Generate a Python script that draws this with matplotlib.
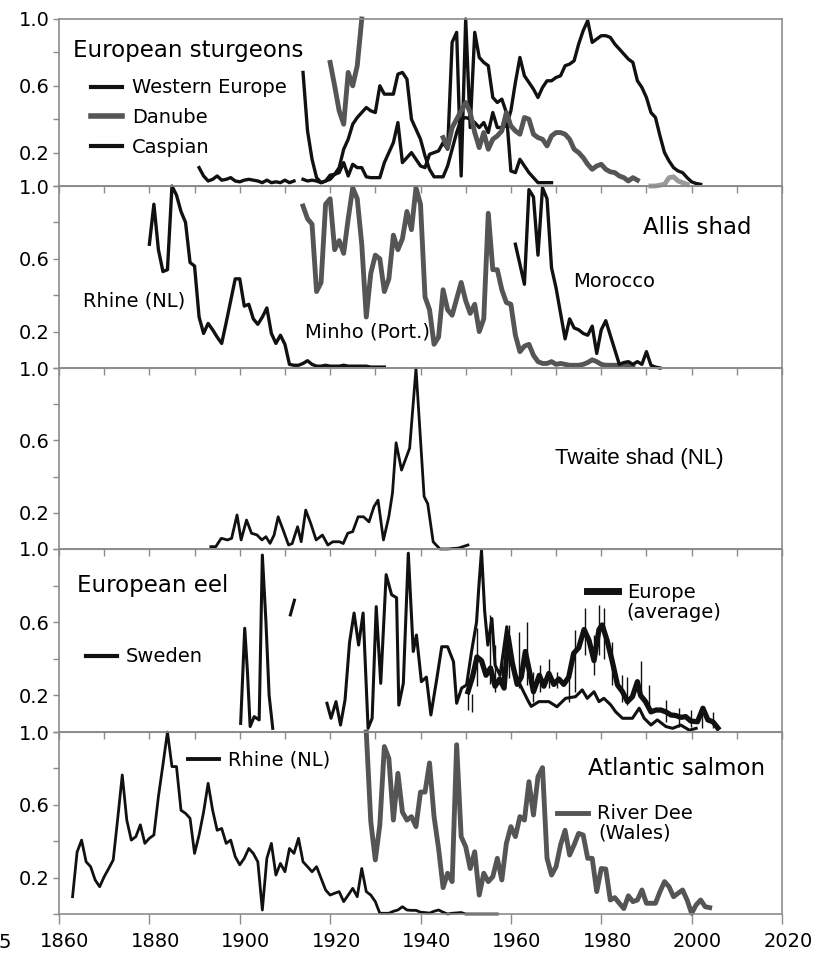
import numpy as np
import matplotlib.pyplot as plt
from matplotlib.lines import Line2D
from matplotlib.transforms import ScaledTranslation

nan = np.nan

# ---------------- data (relative catch, max = 1) ----------------
# European sturgeons
west_years = np.arange(1891, 1970)
west_vals = [0.11, 0.06, 0.03, 0.04, 0.06, 0.035, 0.04, 0.05, 0.03, 0.025,
             0.035, 0.04, 0.035, 0.03, 0.02, 0.035, 0.02, 0.025, 0.02, 0.035,
             0.02, 0.03, nan,
             0.04, 0.03, 0.035, 0.03, 0.02, 0.03, 0.065, 0.07, 0.08, 0.14,
             0.06, 0.13, 0.11, 0.11, 0.055, 0.05, 0.05, 0.05, 0.14, 0.2,
             0.26, 0.38, 0.14, 0.17, 0.2, 0.16, 0.12, 0.11, 0.19, 0.2,
             0.21, 0.26, 0.22, 0.86, 0.92, 0.06, 1.0, 0.35, 0.92, 0.77,
             0.74, 0.72, 0.53, 0.5, 0.52, 0.44, 0.09, 0.08, 0.16, 0.12,
             0.08, 0.05, 0.02, 0.02, 0.02, 0.02]

caspian_years = np.arange(1914, 2003)
caspian_vals = [0.68, 0.33, 0.16, 0.05, 0.02, 0.03, 0.04, 0.07, 0.11, 0.22,
                0.28, 0.37, 0.41, 0.44, 0.47, 0.45, 0.44, 0.6, 0.55, 0.55,
                0.55, 0.67, 0.68, 0.64, 0.4, 0.34, 0.28, 0.18, 0.1, 0.055,
                0.055, 0.055, 0.12, 0.22, 0.32, 0.4, 0.41, 0.4, 0.38, 0.35,
                0.38, 0.32, 0.44, 0.35, 0.35, 0.36, 0.45, 0.62, 0.77, 0.66,
                0.62, 0.58, 0.53, 0.59, 0.63, 0.63, 0.65, 0.66, 0.72, 0.73,
                0.75, 0.85, 0.93, 0.99, 0.86, 0.88, 0.9, 0.9, 0.89, 0.85,
                0.82, 0.79, 0.76, 0.74, 0.63, 0.59, 0.53, 0.44, 0.41, 0.3,
                0.2, 0.15, 0.11, 0.09, 0.08, 0.05, 0.025, 0.015, 0.01]

danube_years = np.arange(1920, 1989)
danube_vals = [0.74, 0.6, 0.45, 0.37, 0.68, 0.6, 0.72, 1.0] + [nan] * 17 + \
              [0.29, 0.23, 0.35, 0.4, 0.45, 0.5, 0.44, 0.32, 0.23, 0.32,
               0.22, 0.28, 0.3, 0.33, 0.44, 0.36, 0.33, 0.31, 0.41, 0.4,
               0.31, 0.29, 0.28, 0.24, 0.3, 0.32, 0.32, 0.31, 0.28, 0.22,
               0.2, 0.17, 0.13, 0.1, 0.12, 0.13, 0.1, 0.085, 0.08, 0.06,
               0.05, 0.03, 0.05, 0.035]
danube_late_years = np.arange(1991, 2000)
danube_late_vals = [0.0, 0.0, 0.005, 0.01, 0.05, 0.055, 0.03, 0.02, 0.01]

# Allis shad
rhine_shad_years = np.arange(1880, 1933)
rhine_shad_vals = [0.68, 0.9, 0.65, 0.53, 0.54, 1.0, 0.95, 0.86, 0.8, 0.58,
                   0.56, 0.28, 0.19, 0.245, 0.21, 0.17, 0.135, 0.25, 0.37, 0.49,
                   0.49, 0.34, 0.35, 0.27, 0.24, 0.28, 0.33, 0.19, 0.135, 0.18,
                   0.13, 0.02, 0.015, 0.015, 0.025, 0.04, 0.02, 0.01, 0.01, 0.015,
                   0.01, 0.01, 0.01, 0.015, 0.01, 0.01, 0.01, 0.01, 0.01, 0.005,
                   0.005, 0.005, 0.005]
minho_years = np.arange(1914, 1988)
minho_vals = [0.89, 0.82, 0.79, 0.42, 0.47, 0.9, 0.93, 0.65, 0.7, 0.63,
              0.82, 0.99, 0.93, 0.68, 0.28, 0.52, 0.62, 0.6, 0.42, 0.49,
              0.73, 0.65, 0.71, 0.86, 0.76, 0.99, 0.9, 0.39, 0.32, 0.13,
              0.17, 0.43, 0.32, 0.29, 0.38, 0.47, 0.37, 0.3, 0.35, 0.2,
              0.27, 0.85, 0.54, 0.54, 0.43, 0.36, 0.35, 0.18, 0.09, 0.12,
              0.13, 0.07, 0.035, 0.025, 0.025, 0.035, 0.02, 0.025, 0.02, 0.015,
              0.015, 0.015, 0.02, 0.03, 0.045, 0.035, 0.02, 0.015, 0.015, 0.015,
              0.015, 0.02, 0.015, 0.01]
morocco_years = np.arange(1961, 1994)
morocco_vals = [0.68, 0.57, 0.46, 0.98, 0.94, 0.62, 0.99, 0.93, 0.55, 0.44,
                0.3, 0.16, 0.27, 0.22, 0.21, 0.19, 0.18, 0.23, 0.08, 0.21,
                0.26, 0.18, 0.1, 0.02, 0.03, 0.035, 0.02, 0.035, 0.02, 0.09,
                0.015, 0.005, 0.0]

# Twaite shad (NL)
twaite_years = [1893.6, 1894.7, 1895.9, 1897.3, 1898.2, 1899.4, 1900.3, 1901.5, 1902.6, 1903.8,
                1904.9, 1905.8, 1906.7, 1907.6, 1908.5, 1909.6, 1910.8, 1911.6, 1912.8, 1913.6,
                1914.6, 1915.7, 1916.9, 1918.3, 1919.5, 1920.6, 1922.1, 1922.9, 1923.9, 1925.0,
                1926.2, 1927.4, 1928.6, 1929.7, 1930.6, 1931.8, 1933.0, 1933.8, 1934.6, 1935.8,
                1937.6, 1939.0, 1940.8, 1941.6, 1942.8, 1944.3, 1946.0, 1948.4, 1950.5]
twaite_vals = [0.013, 0.013, 0.059, 0.05, 0.059, 0.188, 0.05, 0.16, 0.087, 0.078,
               0.05, 0.068, 0.031, 0.077, 0.178, 0.105, 0.022, 0.03, 0.123, 0.04,
               0.215, 0.142, 0.05, 0.077, 0.022, 0.04, 0.04, 0.03, 0.087, 0.096,
               0.178, 0.178, 0.15, 0.234, 0.27, 0.05, 0.18, 0.31, 0.587, 0.436,
               0.557, 0.998, 0.29, 0.25, 0.04, 0.0, 0.0, 0.005, 0.022]

# European eel
sweden_years = [1900.2, 1901.1, 1901.7, 1902.3, 1903.2, 1904.3, 1905.0, 1905.8, 1906.5, 1907.3,
                1909.0, 1911.2, 1912.1, 1915.0,
                1919.3, 1920.2, 1921.3, 1922.3, 1923.3, 1924.3, 1925.3, 1926.3, 1927.3, 1928.4,
                1929.3, 1930.2, 1931.2, 1932.4, 1933.6, 1934.7, 1935.2, 1936.2, 1937.3, 1938.4,
                1939.1, 1940.2, 1941.3, 1942.3, 1943.6, 1944.7, 1946.0, 1947.3, 1948.0, 1949.1,
                1950.2, 1951.3, 1952.4, 1952.9, 1953.5, 1954.2, 1954.9, 1955.8, 1956.5, 1957.6,
                1959.1, 1960.2, 1961.3, 1962.4, 1963.9, 1964.5, 1966.2, 1968.4, 1970.2, 1972.1,
                1974.3, 1975.8, 1976.9, 1978.4, 1979.5, 1980.6, 1982.1, 1983.2, 1984.7, 1986.9,
                1988.4, 1989.5, 1991.0, 1992.4, 1994.3, 1995.8, 1997.6, 1999.5, 2001.0]
sweden_vals = [0.047, 0.567, 0.33, 0.03, 0.084, 0.066, 0.967, 0.6, 0.2, 0.02,
               nan, 0.64, 0.72, nan,
               0.157, 0.075, 0.166, 0.038, 0.175, 0.49, 0.65, 0.475, 0.65, 0.02,
               0.075, 0.685, 0.266, 0.86, 0.75, 0.734, 0.147, 0.266, 0.977, 0.44,
               0.53, 0.275, 0.3, 0.093, 0.29, 0.466, 0.466, 0.384, 0.157, 0.24,
               0.257, 0.44, 0.6, 0.79, 0.99, 0.66, 0.475, 0.62, 0.366, 0.31,
               0.575, 0.366, 0.3, 0.24, 0.166, 0.14, 0.166, 0.166, 0.138, 0.184,
               0.193, 0.23, 0.184, 0.22, 0.166, 0.184, 0.148, 0.11, 0.075, 0.075,
               0.13, 0.075, 0.038, 0.066, 0.03, 0.02, 0.038, 0.01, 0.02]
europe_years = [1950.5, 1951.5, 1952.5, 1953.5, 1954.5, 1955.5, 1956.5, 1957.5, 1958.5, 1959.4,
                1960.3, 1961.4, 1962.3, 1963.2, 1964.2, 1965.0, 1966.3, 1967.3, 1968.4, 1969.5,
                1970.6, 1971.7, 1972.8, 1973.9, 1975.0, 1976.2, 1977.3, 1978.4, 1979.5, 1980.2,
                1981.3, 1982.4, 1983.6, 1984.7, 1985.8, 1986.9, 1988.0, 1988.7, 1989.8, 1991.0,
                1992.1, 1993.2, 1994.3, 1995.4, 1996.5, 1997.6, 1998.7, 1999.8, 2001.3, 2002.5,
                2003.6, 2004.7, 2005.8]
europe_vals = [0.22, 0.3, 0.41, 0.39, 0.31, 0.35, 0.25, 0.29, 0.24, 0.52,
               0.38, 0.26, 0.3, 0.44, 0.32, 0.22, 0.31, 0.25, 0.32, 0.26,
               0.29, 0.26, 0.3, 0.43, 0.46, 0.56, 0.5, 0.39, 0.56, 0.585,
               0.5, 0.39, 0.257, 0.22, 0.166, 0.193, 0.275, 0.2, 0.166, 0.11,
               0.12, 0.12, 0.11, 0.093, 0.09, 0.08, 0.084, 0.06, 0.056, 0.13,
               0.066, 0.056, 0.022]
err_years = [1950.6, 1951.5, 1952.4, 1955.4, 1956.5, 1958.0, 1959.5, 1961.7, 1963.6, 1965.0,
             1966.5, 1968.4, 1970.2, 1972.8, 1974.3, 1976.4, 1978.4, 1979.5, 1980.6, 1982.4,
             1984.7, 1985.8, 1988.7, 1990.6, 1994.3, 1997.3, 1999.8, 2002.4, 2004.7]
err_lo = [0.12, 0.11, 0.25, 0.26, 0.22, 0.257, 0.293, 0.24, 0.257, 0.166,
          0.22, 0.24, 0.24, 0.166, 0.22, 0.42, 0.31, 0.42, 0.4, 0.257,
          0.166, 0.148, 0.22, 0.11, 0.056, 0.03, 0.03, 0.02, 0.02]
err_hi = [0.30, 0.21, 0.57, 0.64, 0.475, 0.384, 0.585, 0.548, 0.6, 0.33,
          0.366, 0.4, 0.33, 0.3, 0.557, 0.675, 0.53, 0.694, 0.675, 0.49,
          0.31, 0.3, 0.39, 0.257, 0.175, 0.13, 0.12, 0.138, 0.11]

# Atlantic salmon
rhine_salmon_years = np.arange(1863, 1958)
rhine_salmon_vals = [0.095, 0.34, 0.406, 0.287, 0.26, 0.187, 0.15, 0.205, 0.25, 0.297,
                     0.526, 0.764, 0.516, 0.406, 0.425, 0.49, 0.388, 0.416, 0.434, 0.645,
                     0.82, 1.0, 0.81, 0.81, 0.57, 0.553, 0.526, 0.333, 0.434, 0.56,
                     0.718, 0.57, 0.46, 0.47, 0.388, 0.406, 0.315, 0.27, 0.306, 0.36,
                     0.333, 0.287, 0.022, 0.306, 0.388, 0.214, 0.278, 0.232, 0.36, 0.333,
                     0.416, 0.287, 0.26, 0.232, 0.26, 0.196, 0.132, 0.104, 0.114, 0.123,
                     0.068, 0.104, 0.141, 0.095, 0.25, 0.123, 0.104, 0.068, 0.004,
                     0.004, 0.004, 0.015, 0.022, 0.04, 0.022, 0.02, 0.02, 0.01, 0.008,
                     0.005, 0.015, 0.022, 0.01, 0.0, 0.004, 0.006, 0.008, 0.0, 0.0,
                     0.0, 0.0, 0.0, 0.0, 0.0, 0.0]
dee_years = np.arange(1928, 2005)
dee_vals = [1.0, 0.507, 0.297, 0.49, 0.92, 0.855, 0.516, 0.773, 0.56, 0.516,
            0.535, 0.48, 0.67, 0.67, 0.83, 0.535, 0.36, 0.145, 0.224, 0.178,
            0.93, 0.425, 0.37, 0.25, 0.342, 0.104, 0.224, 0.178, 0.205, 0.306,
            0.187, 0.388, 0.48, 0.425, 0.535, 0.516, 0.727, 0.544, 0.755, 0.804,
            0.306, 0.214, 0.26, 0.38, 0.46, 0.324, 0.38, 0.443, 0.434, 0.306,
            0.306, 0.123, 0.25, 0.247, 0.077, 0.09, 0.059, 0.03, 0.1, 0.068,
            0.077, 0.132, 0.059, 0.059, 0.059, 0.123, 0.178, 0.15, 0.095, 0.114,
            0.132, 0.077, 0.004, 0.05, 0.077, 0.04, 0.035]

# ---------------- figure ----------------
BLACK = "#111111"
GREY = "#555555"
LIGHT = "#9a9a9a"
SPINE = "#8c8c8c"

W, H = 819, 964
fig = plt.figure(figsize=(W / 100, H / 100), dpi=100)
left_px, right_px = 59, 782
panels_px = [(19, 186), (186, 368), (368, 549), (549, 732), (732, 914)]

axes = []
for i, (top, bot) in enumerate(panels_px):
    ax = fig.add_axes([left_px / W, 1 - bot / H, (right_px - left_px) / W, (bot - top) / H])
    ax.patch.set_alpha(0)
    ax.set_xlim(1860, 2020)
    ax.set_ylim(0, 1)
    for sp in ax.spines.values():
        sp.set_color(SPINE)
        sp.set_linewidth(1.2)
    ax.set_yticks([0, 0.2, 0.4, 0.6, 0.8, 1.0])
    ax.set_yticklabels(["", "0.2", "", "0.6", "", "1.0"])
    ax.tick_params(axis="y", direction="out", length=4, width=1, color=SPINE,
                   labelsize=14, pad=3)
    if i > 0:
        sec = ax.secondary_xaxis("top")
        sec.set_xticks(np.arange(1860, 2021, 10))
        sec.tick_params(direction="in", length=5, width=1, color=SPINE, labeltop=False)
        sec.spines["top"].set_color(SPINE)
    if i < 4:
        ax.tick_params(axis="x", bottom=False, labelbottom=False)
    axes.append(ax)

ax1, ax2, ax3, ax4, ax5 = axes


def key(ax, color, lw, label, x, y):
    # one-entry legend, left edge of the sample line at (x, y) in axes fraction
    leg = ax.legend([Line2D([], [], color=color, lw=lw)], [label], loc="center left",
                    bbox_to_anchor=(x, y), frameon=False, fontsize=14,
                    handlelength=1.6, handletextpad=0.45, borderpad=0, borderaxespad=0)
    ax.legend_ = None      # keep it only once, as a plain artist
    ax.add_artist(leg)
    return leg


# panel 1: sturgeons
ax1.plot(west_years, west_vals, color=BLACK, lw=2.4, clip_on=False)
ax1.plot(caspian_years, caspian_vals, color=BLACK, lw=2.4, clip_on=False)
ax1.plot(danube_years, danube_vals, color=GREY, lw=3.5, clip_on=False)
ax1.plot(danube_late_years, danube_late_vals, color=LIGHT, lw=3.5, clip_on=False)
ax1.text(0.019, 0.772, "European sturgeons", transform=ax1.transAxes, fontsize=16.5,
         va="baseline", ha="left")
ax1.legend([Line2D([], [], color=BLACK, lw=3), Line2D([], [], color=GREY, lw=4),
            Line2D([], [], color=BLACK, lw=3)],
           ["Western Europe", "Danube", "Caspian"], loc="center left",
           bbox_to_anchor=(0.0443, 0.41), frameon=False, fontsize=14,
           handlelength=1.6, handletextpad=0.5, labelspacing=0.55,
           borderpad=0, borderaxespad=0)

# panel 2: allis shad
ax2.plot(rhine_shad_years, rhine_shad_vals, color=BLACK, lw=2.4, clip_on=False)
ax2.plot(minho_years, minho_vals, color=GREY, lw=3.5, clip_on=False)
ax2.plot(morocco_years, morocco_vals, color=BLACK, lw=2.4, clip_on=False)
ax2.text(0.808, 0.736, "Allis shad", transform=ax2.transAxes, fontsize=16.5,
         va="baseline", ha="left")
ax2.text(0.033, 0.34, "Rhine (NL)", transform=ax2.transAxes, fontsize=14,
         va="baseline", ha="left")
ax2.text(0.340, 0.165, "Minho (Port.)", transform=ax2.transAxes, fontsize=14,
         va="baseline", ha="left")
ax2.text(0.711, 0.447, "Morocco", transform=ax2.transAxes, fontsize=14,
         va="baseline", ha="left")

# panel 3: twaite shad
ax3.plot(twaite_years, twaite_vals, color=BLACK, lw=2.0, clip_on=False)
ax3.text(0.686, 0.47, "Twaite shad (NL)", transform=ax3.transAxes, fontsize=16,
         family="Liberation Sans", va="baseline", ha="left")

# panel 4: eel
ax4.vlines(err_years, err_lo, err_hi, color=BLACK, lw=1.0)
ax4.plot(sweden_years, sweden_vals, color=BLACK, lw=2.2, clip_on=False)
ax4.plot(europe_years, europe_vals, color=BLACK, lw=3.8, clip_on=False)
ax4.text(0.025, 0.767, "European eel", transform=ax4.transAxes, fontsize=16.5,
         va="baseline", ha="left")
key(ax4, BLACK, 3, "Sweden", 0.0373, 0.41)
key(ax4, BLACK, 5, "Europe", 0.730, 0.765)
ax4.text(0.785, 0.655, "(average)", transform=ax4.transAxes, fontsize=14,
         va="center", ha="left")

# panel 5: salmon
ax5.plot(rhine_salmon_years, rhine_salmon_vals, color=BLACK, lw=2.0, clip_on=False)
ax5.plot(dee_years, dee_vals, color=GREY, lw=3.5, clip_on=False)
ax5.text(0.732, 0.764, "Atlantic salmon", transform=ax5.transAxes, fontsize=16.5,
         va="baseline", ha="left")
key(ax5, BLACK, 2.8, "Rhine (NL)", 0.178, 0.846)
key(ax5, GREY, 3.5, "River Dee", 0.689, 0.55)
ax5.text(0.746, 0.445, "(Wales)", transform=ax5.transAxes, fontsize=14,
         va="center", ha="left")

ax5.set_xticks(np.arange(1860, 2021, 20))
ax5.tick_params(axis="x", direction="out", length=7, width=1, color=SPINE,
                labelsize=14, pad=6)
shift = ScaledTranslation(0.06, 0, fig.dpi_scale_trans)
for lab in ax5.get_xticklabels():
    lab.set_transform(lab.get_transform() + shift)
fig.text(-0.002, 1 - 942 / H, "5", fontsize=14, ha="left", va="center")

fig.savefig("out.png", dpi=100)
